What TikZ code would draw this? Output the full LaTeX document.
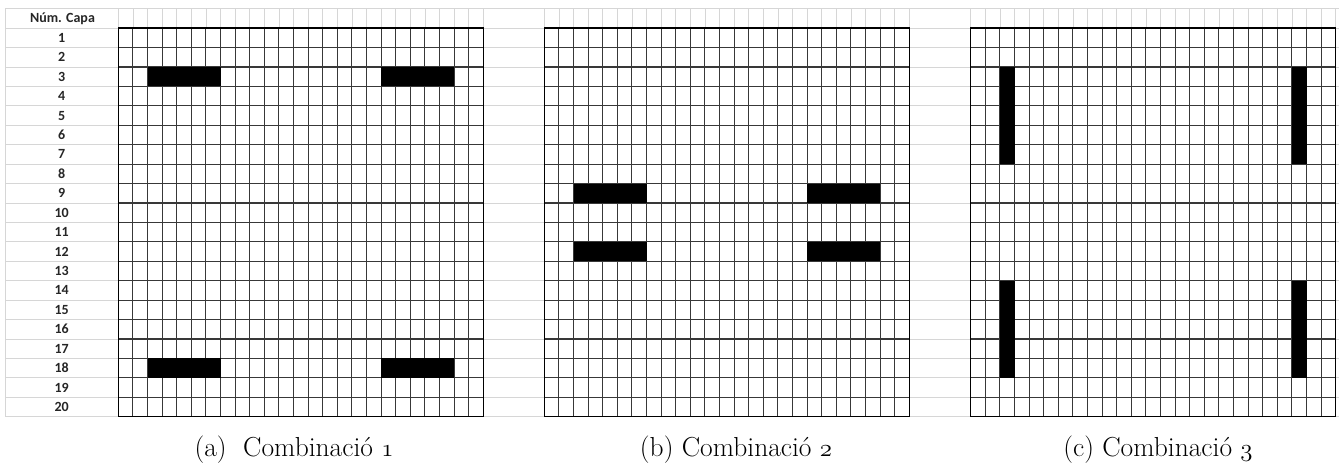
\documentclass[tikz,border=0pt]{standalone}
\usepackage{fontspec}
\newfontfamily\calibri{Carlito}
\newcommand\osf[1]{{\usefont{OML}{cmm}{m}{it}#1}}
\begin{document}
\begin{tikzpicture}[x=1pt,y=-1pt,
  lightline/.style={draw=black!16,line width=0.8pt},
  gridline/.style={draw=black!78,line width=1.1pt},
  border/.style={draw=black,line width=1.3pt},
  blk/.style={fill=black},
  rowlabel/.style={font=\calibri\bfseries\fontsize{14}{16}\selectfont, text=black!85, inner sep=0pt},
  captext/.style={font=\fontsize{27.5}{30}\selectfont, inner sep=0pt, anchor=base}]
\useasboundingbox (0,0) rectangle (1339,463);
\fill[white] (0,0) rectangle (1339,463);
\def\rh{19.43}
\def\cw{14.6}
\def\ytop{28.1}
% spreadsheet background lines
\draw[lightline] (5,8.5) -- (1339,8.5);
\foreach \r in {0,...,20} \draw[lightline] (5,{\ytop+\r*\rh}) -- (1339,{\ytop+\r*\rh});
\draw[lightline] (5,8.5) -- (5,{\ytop+20*\rh});
\foreach \gx in {118.3,544.3,970.7} \foreach \c in {0,...,25}
  \draw[lightline] ({\gx+\c*\cw},8.5) -- ({\gx+\c*\cw},\ytop);
% grids
\foreach \gx in {118.3,544.3,970.7} {
  \foreach \c in {1,...,24} \draw[gridline] ({\gx+\c*\cw},\ytop) -- ({\gx+\c*\cw},{\ytop+20*\rh});
  \foreach \r in {1,...,19} \draw[gridline] (\gx,{\ytop+\r*\rh}) -- ({\gx+25*\cw},{\ytop+\r*\rh});
  \draw[border] (\gx,\ytop) rectangle ({\gx+25*\cw},{\ytop+20*\rh});
}
% black blocks
\foreach \gx/\r/\c/\nc/\nr in {118.3/3/3/5/1, 118.3/3/19/5/1, 118.3/18/3/5/1, 118.3/18/19/5/1,
  544.3/9/3/5/1, 544.3/9/19/5/1, 544.3/12/3/5/1, 544.3/12/19/5/1,
  970.7/3/3/1/5, 970.7/3/23/1/5, 970.7/14/3/1/5, 970.7/14/23/1/5}
  \fill[blk] ({\gx+(\c-1)*\cw},{\ytop+(\r-1)*\rh}) rectangle ({\gx+(\c-1+\nc)*\cw},{\ytop+(\r-1+\nr)*\rh});
% labels
\node[rowlabel] (hdr) at (62.5,18.6) {Núm. Capa};
\foreach \r in {1,...,20}
  \node[rowlabel] (r\r) at (61.7,{\ytop+(\r-0.5)*\rh}) {\r};
% captions
\node[captext] (capa) at (294,456) {(a)\ \ Combinació \osf{1}};
\node[captext] (capb) at (736,456) {(b) Combinació \osf{2}};
\node[captext] (capc) at (1158,456) {(c) Combinació \osf{3}};
\end{tikzpicture}
\end{document}
